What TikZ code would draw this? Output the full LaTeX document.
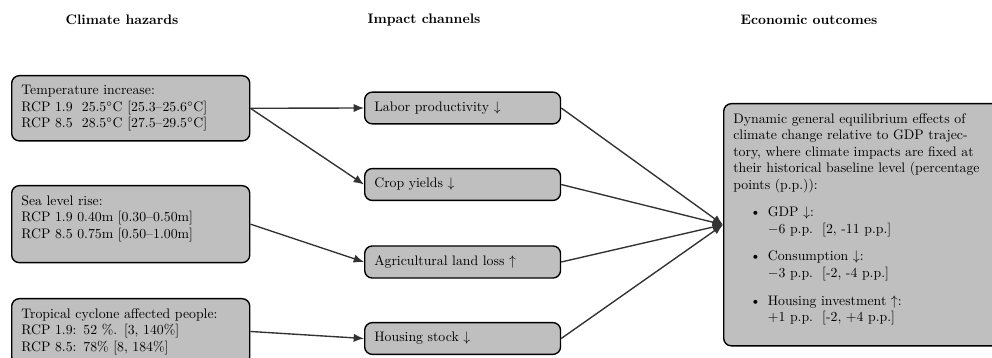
\documentclass[tikz,border=0pt]{standalone}
\usetikzlibrary{arrows.meta}
\begin{document}
\begin{tikzpicture}[x=0.725pt,y=-0.725pt,
  box/.style={draw=black, line width=1pt, fill=black!25, rounded corners=5.5pt,
    inner sep=7pt, font=\normalsize},
  hazard/.style={box, text width=158.6pt, align=left},
  channel/.style={box, text width=128pt, align=left, minimum height=22.5pt},
  outcome/.style={box},
  header/.style={font=\bfseries},
  conn/.style={draw=black!80, line width=1pt, -{Latex[length=7.5pt,width=6pt]}}
]
\useasboundingbox (0,0) rectangle (992,358);

\node[header] (hd1) at (122,20) {Climate hazards};
\node[header] (hd2) at (424,20) {Impact channels};
\node[header] (hd3) at (809,20) {Economic outcomes};

\node[hazard, anchor=north west] (h1) at (11,75)
  {Temperature increase:\\
   RCP 1.9\ \ 25.5$^\circ$C [25.3--25.6$^\circ$C]\\
   RCP 8.5\ \ 28.5$^\circ$C [27.5--29.5$^\circ$C]};
\node[box, anchor=north west] (h2) at (11,185)
  {\parbox[c][41.8pt][t]{158.6pt}{\raggedright Sea level rise:\\
   RCP 1.9 0.40m [0.30--0.50m]\\
   RCP 8.5 0.75m [0.50--1.00m]}};
\node[hazard, anchor=north west] (h3) at (11,298)
  {Tropical cyclone affected people:\\
   RCP 1.9: 52 \%. [3, 140\%]\\
   RCP 8.5: 78\% [8, 184\%]};

\node[channel, anchor=west] (c1) at (364,108) {Labor productivity $\downarrow$};
\node[channel, anchor=west] (c2) at (364,184.5) {Crop yields $\downarrow$};
\node[channel, anchor=west] (c3) at (364,262) {Agricultural land loss $\uparrow$};
\node[channel, anchor=west] (c4) at (364,338.5) {Housing stock $\downarrow$};

\node[outcome, anchor=north west] (out) at (723,103)
  {\parbox{200pt}{\raggedright
   Dynamic general equilibrium effects of\\
   climate change relative to GDP trajec-\\
   tory, where climate impacts are fixed at\\
   their historical baseline level (percentage\\
   points (p.p.)):
   \begin{itemize}
   \item GDP $\downarrow$:\\ $-6$ p.p.\ \ [2, -11 p.p.]
   \item Consumption $\downarrow$:\\ $-3$ p.p.\ \ [-2, -4 p.p.]
   \item Housing investment $\uparrow$:\\ $+1$ p.p.\ \ [-2, +4 p.p.]
   \end{itemize}}};

\draw[conn] (h1.east) -- (c1.west);
\draw[conn] (h1.east) -- (c2.west);
\draw[conn] (h2.east) -- (c3.west);
\draw[conn] (h3.east) -- (c4.west);

\draw[conn] (c1.east) -- (out.west);
\draw[conn] (c2.east) -- (out.west);
\draw[conn] (c3.east) -- (out.west);
\draw[conn] (c4.east) -- (out.west);
\end{tikzpicture}
\end{document}
